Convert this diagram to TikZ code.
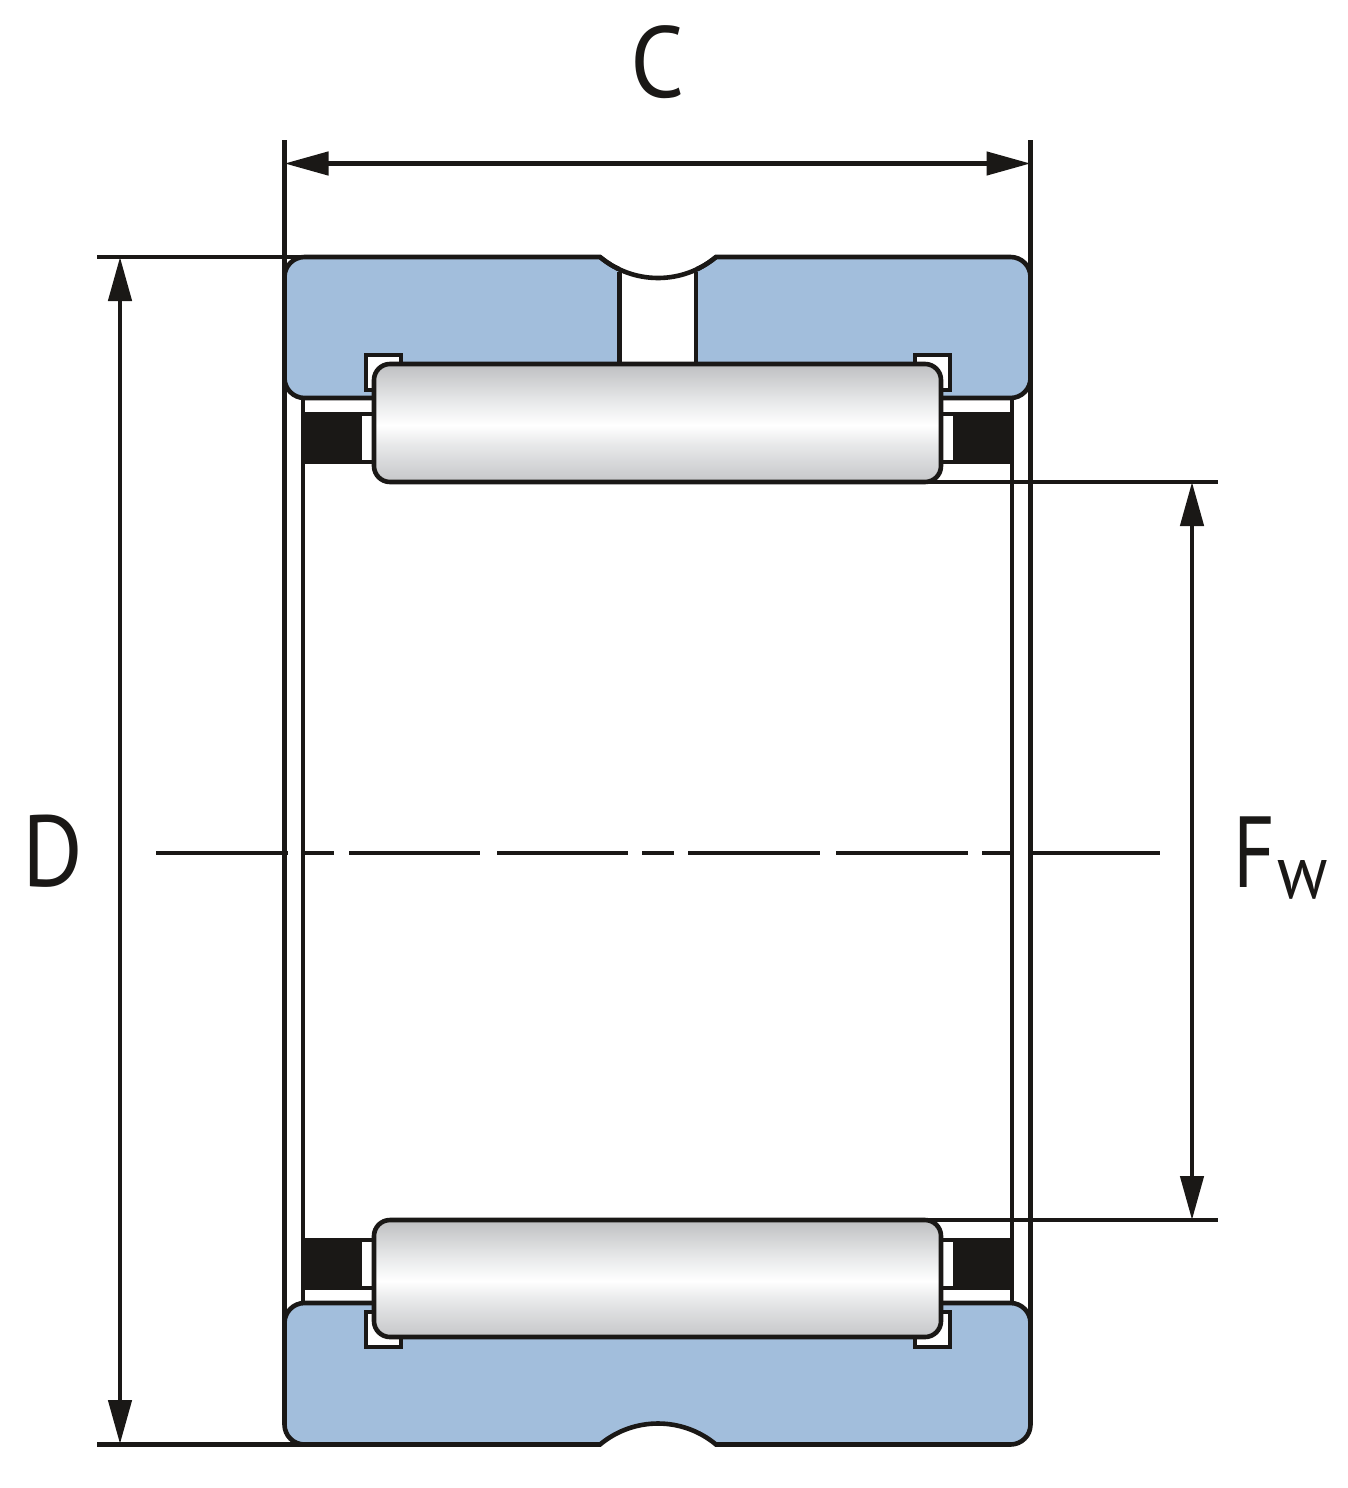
\documentclass[tikz,border=0pt]{standalone}
\usepackage{fontspec}
\setmainfont{PT Sans}
\usetikzlibrary{arrows.meta}
\definecolor{ink}{HTML}{1A1816}
\definecolor{ringblue}{HTML}{A2BEDC}
\definecolor{rollera}{HTML}{BEBFC1}
\definecolor{rollerb}{HTML}{C6C7C9}
\definecolor{rollerc}{HTML}{D2D3D5}
\definecolor{rollerd}{HTML}{E8E9EA}
\pgfdeclareverticalshading{rollershade}{100bp}{
 color(0bp)=(rollerb); color(25bp)=(rollerb); color(31bp)=(rollerc); color(41bp)=(rollerd); color(49bp)=(white); color(59bp)=(rollerd); color(75bp)=(rollera); color(100bp)=(rollera)}
\tikzset{
 ln/.style={draw=ink,line width=4.6pt,line cap=butt,line join=miter},
 ring/.style={ln,fill=ringblue,rounded corners=20pt},
 pocket/.style={ln,fill=white},
 roller/.style={ln,rounded corners=16pt,shading=rollershade},
 dim/.style={draw=ink,line width=4.6pt,{Triangle[length=44pt,width=23pt]}-{Triangle[length=44pt,width=23pt]}},
 ext/.style={draw=ink,line width=4.6pt},
 centre/.style={draw=ink,line width=4.2pt},
 lab/.style={inner sep=0pt,outer sep=0pt,text=ink,anchor=base west,font=\fontsize{101}{101}\selectfont},
 sublab/.style={inner sep=0pt,outer sep=0pt,text=ink,anchor=base west,font=\fontsize{76}{76}\selectfont},
}
\begin{document}
\begin{tikzpicture}[x=1pt,y=-1pt]
\useasboundingbox (0,0) rectangle (1348,1488);
% inner shell lines
\draw[ln] (303,398) -- (303,1303);
\draw[ln] (1012,398) -- (1012,1303);
% cage
\fill[ink] (303,412) rectangle (374,464);
\fill[white] (361.5,416) rectangle (374,460);
\fill[ink] (941,412) rectangle (1012,464);
\fill[white] (941,416) rectangle (953,460);
\fill[ink] (303,1238) rectangle (374,1290);
\fill[white] (361.5,1242) rectangle (374,1286);
\fill[ink] (941,1238) rectangle (1012,1290);
\fill[white] (941,1242) rectangle (953,1286);
% extension lines
\coordinate (cl) at (284.5,163.5);
\coordinate (cr) at (1030.5,163.5);
\coordinate (dt) at (120,257);
\coordinate (db) at (120,1444);
\coordinate (ft) at (1192,482);
\coordinate (fb) at (1192,1220);
\draw[ext] (284.5,140) -- (284.5,1425);
\draw[ext] (1030.5,140) -- (1030.5,1425);
\draw[ext] (97,257) -- (310,257);
\draw[ext] (97,1444.5) -- (310,1444.5);
% rings
\path[ring] (284.5,257) [sharp corners] -- (600,257) .. controls (633.6,285) and (682.4,285) .. (716,257)
   [rounded corners=20pt] -- (1030.5,257) -- (1030.5,398) -- (284.5,398) -- cycle;
\path[ring] (284.5,1303) -- (1030.5,1303) -- (1030.5,1444.5) [sharp corners] -- (716,1444.5)
   .. controls (682.4,1416.5) and (633.6,1416.5) .. (600,1444.5) [rounded corners=20pt] -- (284.5,1444.5) -- cycle;
% oil hole
\fill[white] (619.5,259) rectangle (696,363);
\draw[ln] (600,257) .. controls (633.6,285) and (682.4,285) .. (716,257);
\draw[ln] (619.5,272) -- (619.5,363);
\draw[ln] (696,272) -- (696,363);
% pockets
\path[pocket] (366,355) rectangle (401,390);
\path[pocket] (915,355) rectangle (950,390);
\path[pocket] (366,1312) rectangle (401,1347);
\path[pocket] (915,1312) rectangle (950,1347);
% rollers
\path[roller] (374,364) rectangle (941,482);
\path[roller] (374,1220) rectangle (941,1337);
% Fw extension lines
\draw[ext] (925,482) -- (1218,482);
\draw[ext] (925,1220) -- (1218,1220);
% dimension lines
\draw[dim] (cl) -- (cr);
\draw[dim] (dt) -- (db);
\draw[dim] (ft) -- (fb);
% centre line
\draw[centre] (156,853) -- (288,853);
\draw[centre] (305,853) -- (334,853);
\draw[centre] (349,853) -- (480,853);
\draw[centre] (497,853) -- (628,853);
\draw[centre] (642,853) -- (674,853);
\draw[centre] (688,853) -- (820,853);
\draw[centre] (836,853) -- (968,853);
\draw[centre] (982,853) -- (1011,853);
\draw[centre] (1028,853) -- (1160,853);
% labels
\node[lab,xscale=0.94] (labC) at (630,97) {C};
\node[lab,xscale=0.92] (labD) at (22,886) {D};
\node[lab,xscale=0.8] (labF) at (1233,887) {F};
\node[sublab,xscale=0.9] (labW) at (1277.5,898) {w};
\end{tikzpicture}
\end{document}
